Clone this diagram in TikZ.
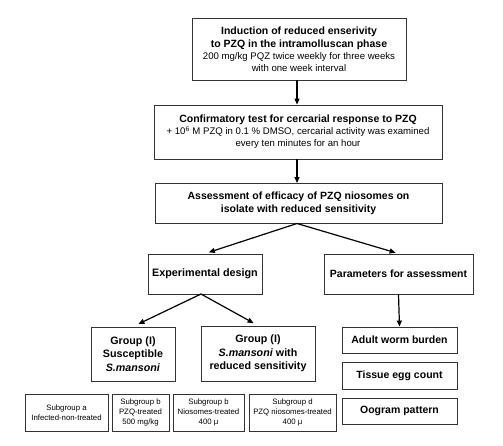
\documentclass[tikz,border=0pt]{standalone}
\usepackage{fontspec}
\setmainfont{Liberation Sans}
\usetikzlibrary{arrows.meta}
\begin{document}
\begin{tikzpicture}[x=1pt,y=-1pt,
  box/.style={draw=black!80,line width=0.9pt,inner sep=0pt,align=center,font=\fontsize{10.5}{13}\selectfont\bfseries},
  small/.style={draw=black!80,line width=0.8pt,inner sep=0pt,align=center,font=\fontsize{7.8}{10}\selectfont},
  arr/.style={-{Triangle[length=6pt,width=5pt]},line width=1.2pt,black}]
\newcommand\subtxt{\fontsize{9.6}{12.5}\selectfont\mdseries}
\useasboundingbox (0,0) rectangle (503,445);
\node[box,minimum width=214pt,minimum height=62pt] (b1) at (299,49)
  {Induction of reduced enserivity\\to PZQ in the intramolluscan phase\\[-1pt]
   {\subtxt 200 mg/kg PQZ twice weekly for three weeks}\\[-1pt]
   {\subtxt with one week interval}};
\node[box,minimum width=288pt,minimum height=54pt] (b2) at (298,132)
  {Confirmatory test for cercarial response to PZQ\\[-1pt]
   {\subtxt + 10\textsuperscript{6} M PZQ in 0.1 \% DMSO, cercarial activity was examined}\\[-1pt]
   {\subtxt every ten minutes for an hour}};
\node[box,minimum width=287pt,minimum height=40pt] (b3) at (298.5,203)
  {Assessment of efficacy of PZQ niosomes on\\isolate with reduced sensitivity};
\node[box,minimum width=114pt,minimum height=40pt,font=\fontsize{10.8}{13}\selectfont\bfseries] (ed) at (205,274) {Experimental design};
\node[box,minimum width=149pt,minimum height=40pt] (pa) at (398.5,274) {Parameters for assessment};
\node[box,minimum width=84pt,minimum height=54pt,font=\fontsize{10.7}{13.5}\selectfont\bfseries] (g1) at (133,354)
  {Group (I)\\Susceptible\\\textit{S.mansoni}};
\node[box,minimum width=114pt,minimum height=55pt,font=\fontsize{10.7}{13.5}\selectfont\bfseries] (g2) at (258,353.5)
  {Group (I)\\\textit{S.mansoni} with\\reduced sensitivity};
\node[small,minimum width=83pt,minimum height=37pt] (sa) at (66.5,412.5) {Subgroup a\\Infected-non-treated};
\node[small,minimum width=57pt,minimum height=37pt] (sb) at (140.5,412.5) {Subgroup b\\PZQ-treated\\500 mg/kg};
\node[small,minimum width=71pt,minimum height=37pt] (sc) at (208.5,412.5) {Subgroup b\\Niosomes-treated\\400 μ};
\node[small,minimum width=87pt,minimum height=37pt] (sd) at (292.5,412.5) {Subgroup d\\PZQ niosomes-treated\\400 μ};
\node[box,minimum width=115pt,minimum height=26pt] (aw) at (399.5,340) {Adult worm burden};
\node[box,minimum width=115pt,minimum height=27pt] (te) at (399.5,375.5) {Tissue egg count};
\node[box,minimum width=115pt,minimum height=26pt] (oo) at (399.5,411) {Oogram pattern};
\coordinate (b1s) at (297,80);
\draw[arr] (b1s) -- (b1s |- b2.north);
\draw[arr] (297,159) -- (297,183);
\coordinate (b3s) at (297,223.5);
\draw[arr,shorten >=4pt] (b3s) -- (ed.north);
\draw[arr,shorten >=3pt] (b3s) -- (pa.north);
\coordinate (eds) at (201,294);
\draw[arr,shorten >=6pt] (eds) -- (g1.north);
\draw[arr,shorten >=5pt] (eds) -- (g2.north);
\draw[arr] (pa.south) -- (aw.north);
\end{tikzpicture}
\end{document}
